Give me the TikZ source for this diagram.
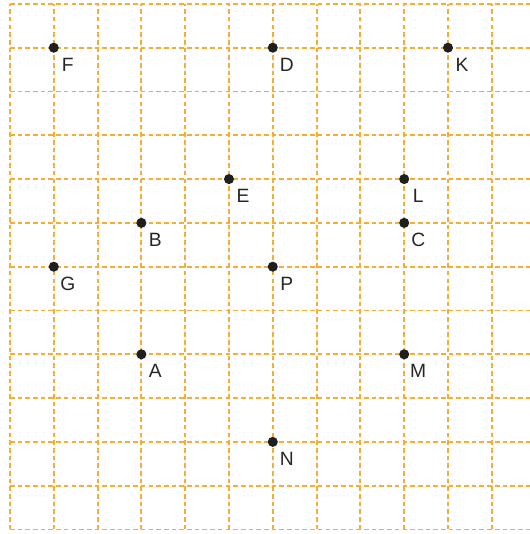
\documentclass[tikz,border=0pt]{standalone}
\usepackage{fontspec}
\setmainfont{Liberation Sans}
\usetikzlibrary{calc}
\definecolor{gridorange}{RGB}{250,172,50}

\begin{document}
\begin{tikzpicture}[
  font=\fontsize{12.5}{15}\selectfont,
  gridline/.style={draw=gridorange, dash pattern=on 3pt off 2pt, line width=1.2pt},
  pt/.style={circle, fill=black!88, inner sep=0pt, minimum size=2.3mm},
  lbl/.style={inner sep=0pt, text=black!85}
]
\useasboundingbox (-0.228,-0.103) rectangle (11.872,12.089);

% ── The squared paper ─────────────────────────────────────────────────────
\begin{scope}
  \clip (-0.228,-0.103) rectangle (11.872,12.089);
  \draw[gridline] (0,0) grid (12,12);
\end{scope}

% ── The marked points, each with its letter below right ──────────────────
\foreach \n/\x/\y in {F/1/11, D/6/11, K/10/11, E/5/8, L/9/8, B/3/7, C/9/7,
                      G/1/6, P/6/6, A/3/4, M/9/4, N/6/2} {
  \node[pt] (\n) at (\x,\y) {};
  \node[lbl] (\n-lab) at ($(\n)+(0.32,-0.39)$) {\n};
}

\end{tikzpicture}
\end{document}
